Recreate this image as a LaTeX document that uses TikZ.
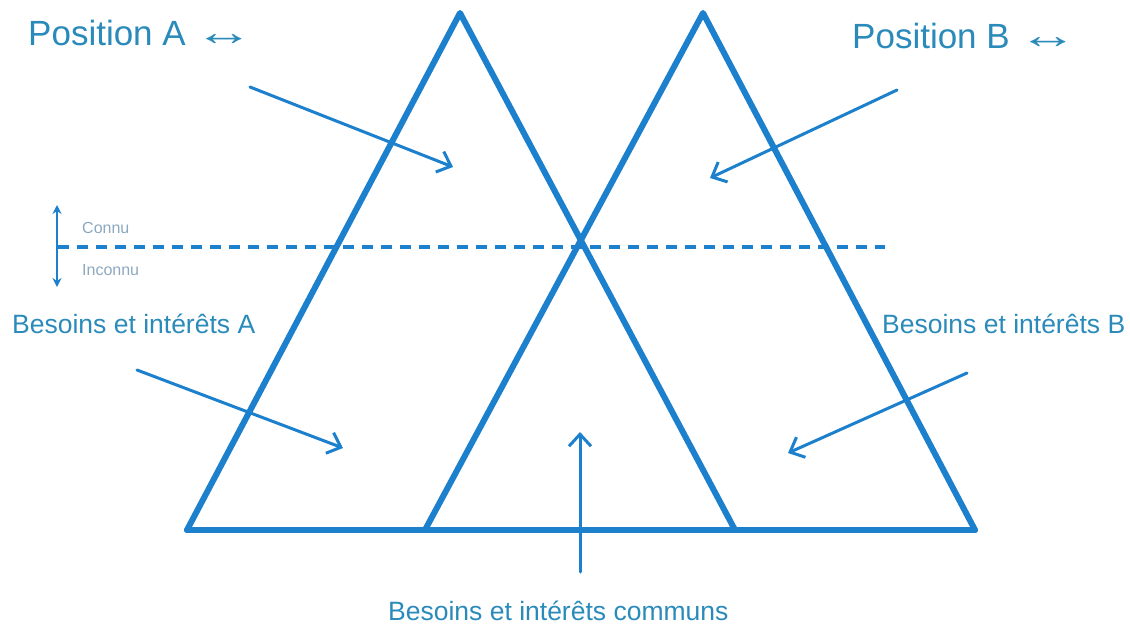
\documentclass[tikz,border=0pt]{standalone}
\usepackage{fontspec}
\setmainfont{Liberation Sans}
\usetikzlibrary{arrows.meta,positioning}
\definecolor{lineblue}{RGB}{28,128,205}
\definecolor{textblue}{RGB}{42,138,186}
\definecolor{softblue}{RGB}{140,168,190}

\begin{document}
\begin{tikzpicture}[
  x=1pt,y=-1pt,
  line cap=round,line join=round,
  tri/.style={draw=lineblue,line width=6pt},
  pointer/.style={draw=lineblue,line width=3pt,-{Straight Barb[length=12pt,width=22pt]}},
  divider/.style={draw=lineblue,line width=4pt,dash pattern=on 11pt off 8pt,line cap=butt},
  knownscale/.style={draw=lineblue,line width=2pt,{Stealth[length=9pt,width=9pt]}-{Stealth[length=9pt,width=9pt]}},
  heading/.style={text=textblue,font=\fontsize{35}{38}\selectfont,inner sep=0pt,anchor=base west},
  need/.style={text=textblue,font=\fontsize{26.5}{30}\selectfont,inner sep=0pt,anchor=base west},
  tag/.style={text=softblue,font=\fontsize{16}{18}\selectfont,inner sep=0pt,anchor=base west}
]
\useasboundingbox (0,0) rectangle (1130,629);

% ===== Triangles =====
\coordinate (topA) at (460,13);
\coordinate (leftA) at (187,530);
\coordinate (rightA) at (735,530);
\coordinate (topB) at (703,13);
\coordinate (leftB) at (425,530);
\coordinate (rightB) at (975,530);
\draw[tri] (leftA) -- (topA) -- (rightA);
\draw[tri] (leftB) -- (topB) -- (rightB);
\draw[tri] (leftA) -- (rightB);

% ===== Labels =====
\node[heading] (posA) at (28,45) {Position A\hspace{9pt}\textbf{\scalebox{1.7}[1.1]{↔}}};
\node[heading] (posB) at (852,48) {Position B\hspace{9pt}\textbf{\scalebox{1.7}[1.1]{↔}}};
\node[need] (needA) at (12,333) {Besoins et intérêts A};
\node[need] (needB) at (882,333) {Besoins et intérêts B};
\node[need] (common) at (388,620) {Besoins et intérêts communs};
\node[tag] (known) at (82,233) {Connu};
\node[tag] (unknown) at (82,275) {Inconnu};

% ===== Known / unknown =====
\coordinate (lineL) at (58,247);
\coordinate (lineR) at (885,247);
\coordinate (scaleT) at (57,205);
\coordinate (scaleB) at (57,287);
\draw[divider] (lineL) -- (lineR);
\draw[knownscale] (scaleT) -- (scaleB);

% ===== Pointers =====
\coordinate (pA1) at (250,87);
\coordinate (hA1) at (453,167);
\coordinate (pB1) at (897,90);
\coordinate (hB1) at (710,178);
\coordinate (pA2) at (137,370);
\coordinate (hA2) at (343,448);
\coordinate (pB2) at (967,373);
\coordinate (hB2) at (788,453);
\coordinate (pC) at (580,572);
\coordinate (hC) at (580,432);
\draw[pointer] (pA1) -- (hA1);
\draw[pointer] (pB1) -- (hB1);
\draw[pointer] (pA2) -- (hA2);
\draw[pointer] (pB2) -- (hB2);
\draw[pointer] (pC) -- (hC);

\end{tikzpicture}
\end{document}
